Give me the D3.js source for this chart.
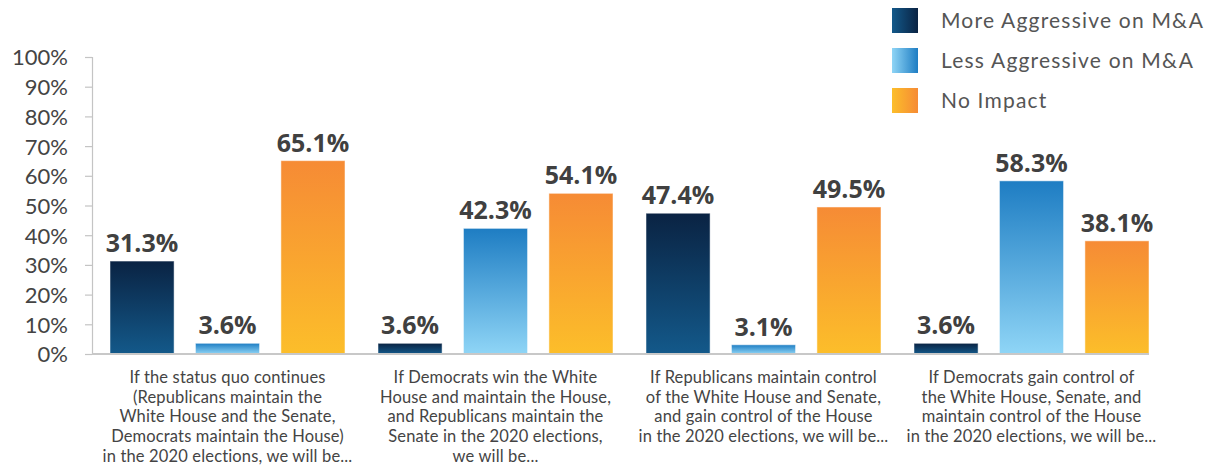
<!DOCTYPE html>
<html>
<head>
<meta charset="utf-8">
<script src="https://cdn.jsdelivr.net/npm/d3@7"></script>
<style>
  html, body { margin: 0; padding: 0; background: #fff; }
  svg { display: block; }
</style>
</head>
<body>
<svg id="chart" width="1212" height="466"></svg>
<script>
// Survey scenarios (x-axis groups), wrapped into display lines
const categories = [
  ["If the status quo continues", "(Republicans maintain the", "White House and the Senate,", "Democrats maintain the House)", "in the 2020 elections, we will be..."],
  ["If Democrats win the White", "House and maintain the House,", "and Republicans maintain the", "Senate in the 2020 elections,", "we will be..."],
  ["If Republicans maintain control", "of the White House and Senate,", "and gain control of the House", "in the 2020 elections, we will be..."],
  ["If Democrats gain control of", "the White House, Senate, and", "maintain control of the House", "in the 2020 elections, we will be..."]
];
const seriesNames = ["More Aggressive on M&A", "Less Aggressive on M&A", "No Impact"];
const moreAggressive = [31.3, 3.6, 47.4, 3.6];
const lessAggressive = [3.6, 42.3, 3.1, 58.3];
const noImpact = [65.1, 54.1, 49.5, 38.1];
const yTicks = [0, 10, 20, 30, 40, 50, 60, 70, 80, 90, 100];

const seriesValues = [moreAggressive, lessAggressive, noImpact];

const svg = d3.select("#chart");
const defs = svg.append("defs");

// Vertical gradients for bars, horizontal ones for legend swatches
const palettes = [
  { top: "#0a2343", bottom: "#13598a" },
  { top: "#1e7dc3", bottom: "#8fd5f6" },
  { top: "#f68b35", bottom: "#fcbe2a" }
];
palettes.forEach((p, i) => {
  const v = defs.append("linearGradient").attr("id", "bar" + i)
    .attr("x1", 0).attr("y1", 0).attr("x2", 0).attr("y2", 1);
  v.append("stop").attr("offset", "0%").attr("stop-color", p.top);
  v.append("stop").attr("offset", "100%").attr("stop-color", p.bottom);
  const h = defs.append("linearGradient").attr("id", "leg" + i)
    .attr("x1", 0).attr("y1", 0).attr("x2", 1).attr("y2", 0);
  h.append("stop").attr("offset", "0%").attr("stop-color", p.bottom);
  h.append("stop").attr("offset", "100%").attr("stop-color", p.top);
});

const axisX = 92;
const y = d3.scaleLinear().domain([0, 100]).range([354, 57]);
const x0 = d3.scaleBand().domain(d3.range(categories.length)).range([93.5, 1165.5]).padding(0);
const x1 = d3.scaleBand().domain(d3.range(seriesNames.length))
  .range([16.5, x0.bandwidth() - 16.5]).paddingInner(0.25).paddingOuter(0);

// Y axis
const yAxis = d3.axisLeft(y).tickValues(yTicks).tickSize(7).tickPadding(17)
  .tickFormat(d => d + "%");
const gy = svg.append("g").attr("transform", `translate(${axisX},0)`).call(yAxis);
gy.select(".domain").attr("stroke", "#c4c4c4").attr("stroke-width", 1.2);
gy.selectAll(".tick line").attr("stroke", "#c4c4c4").attr("stroke-width", 1.2);
gy.selectAll(".tick text")
  .attr("fill", "#444")
  .style("font-family", "Lato, sans-serif")
  .style("font-size", "22px")
  .attr("dy", "0.36em");

// Bars
const groups = svg.append("g").selectAll("g")
  .data(categories)
  .join("g")
  .attr("transform", (d, i) => `translate(${x0(i)},0)`);

groups.selectAll("rect")
  .data((d, i) => seriesValues.map((vals, s) => ({ s, v: vals[i] })))
  .join("rect")
  .attr("x", d => x1(d.s))
  .attr("width", x1.bandwidth())
  .attr("y", d => y(d.v))
  .attr("height", d => y(0) - y(d.v))
  .attr("fill", d => `url(#bar${d.s})`)
  .attr("stroke", "#ffffff")
  .attr("stroke-opacity", 0.5)
  .attr("stroke-width", 1);

groups.selectAll("text.val")
  .data((d, i) => seriesValues.map((vals, s) => ({ s, v: vals[i] })))
  .join("text")
  .attr("class", "val")
  .attr("x", d => x1(d.s) + x1.bandwidth() / 2)
  .attr("y", d => y(d.v) - 9)
  .attr("text-anchor", "middle")
  .attr("fill", "#404040")
  .style("font-family", "'Open Sans', sans-serif")
  .style("font-weight", 700)
  .style("font-size", "25px")
  .text(d => d.v.toFixed(1) + "%");

// Baseline
svg.append("line")
  .attr("x1", axisX).attr("x2", x0(categories.length - 1) + x1(2) + x1.bandwidth())
  .attr("y1", y(0)).attr("y2", y(0))
  .attr("stroke", "#c8c8c8").attr("stroke-width", 2);

// Category labels
groups.append("text")
  .attr("text-anchor", "middle")
  .attr("fill", "#444")
  .style("font-family", "Lato, sans-serif")
  .style("font-size", "16.5px")
  .style("letter-spacing", "0.15px")
  .selectAll("tspan")
  .data(d => d)
  .join("tspan")
  .attr("x", x0.bandwidth() / 2)
  .attr("y", (d, i) => 383 + i * 19.7)
  .text(d => d);

// Legend
const legend = svg.append("g").attr("transform", "translate(892,8)");
const li = legend.selectAll("g").data(seriesNames).join("g")
  .attr("transform", (d, i) => `translate(0,${i * 40})`);
li.append("rect").attr("width", 26).attr("height", 25)
  .attr("fill", (d, i) => `url(#leg${i})`);
li.append("text")
  .attr("x", 49).attr("y", 19.5)
  .attr("fill", "#555")
  .style("font-family", "Lato, sans-serif")
  .style("font-size", "21px")
  .style("letter-spacing", "1.2px")
  .text(d => d);
</script>
</body>
</html>
